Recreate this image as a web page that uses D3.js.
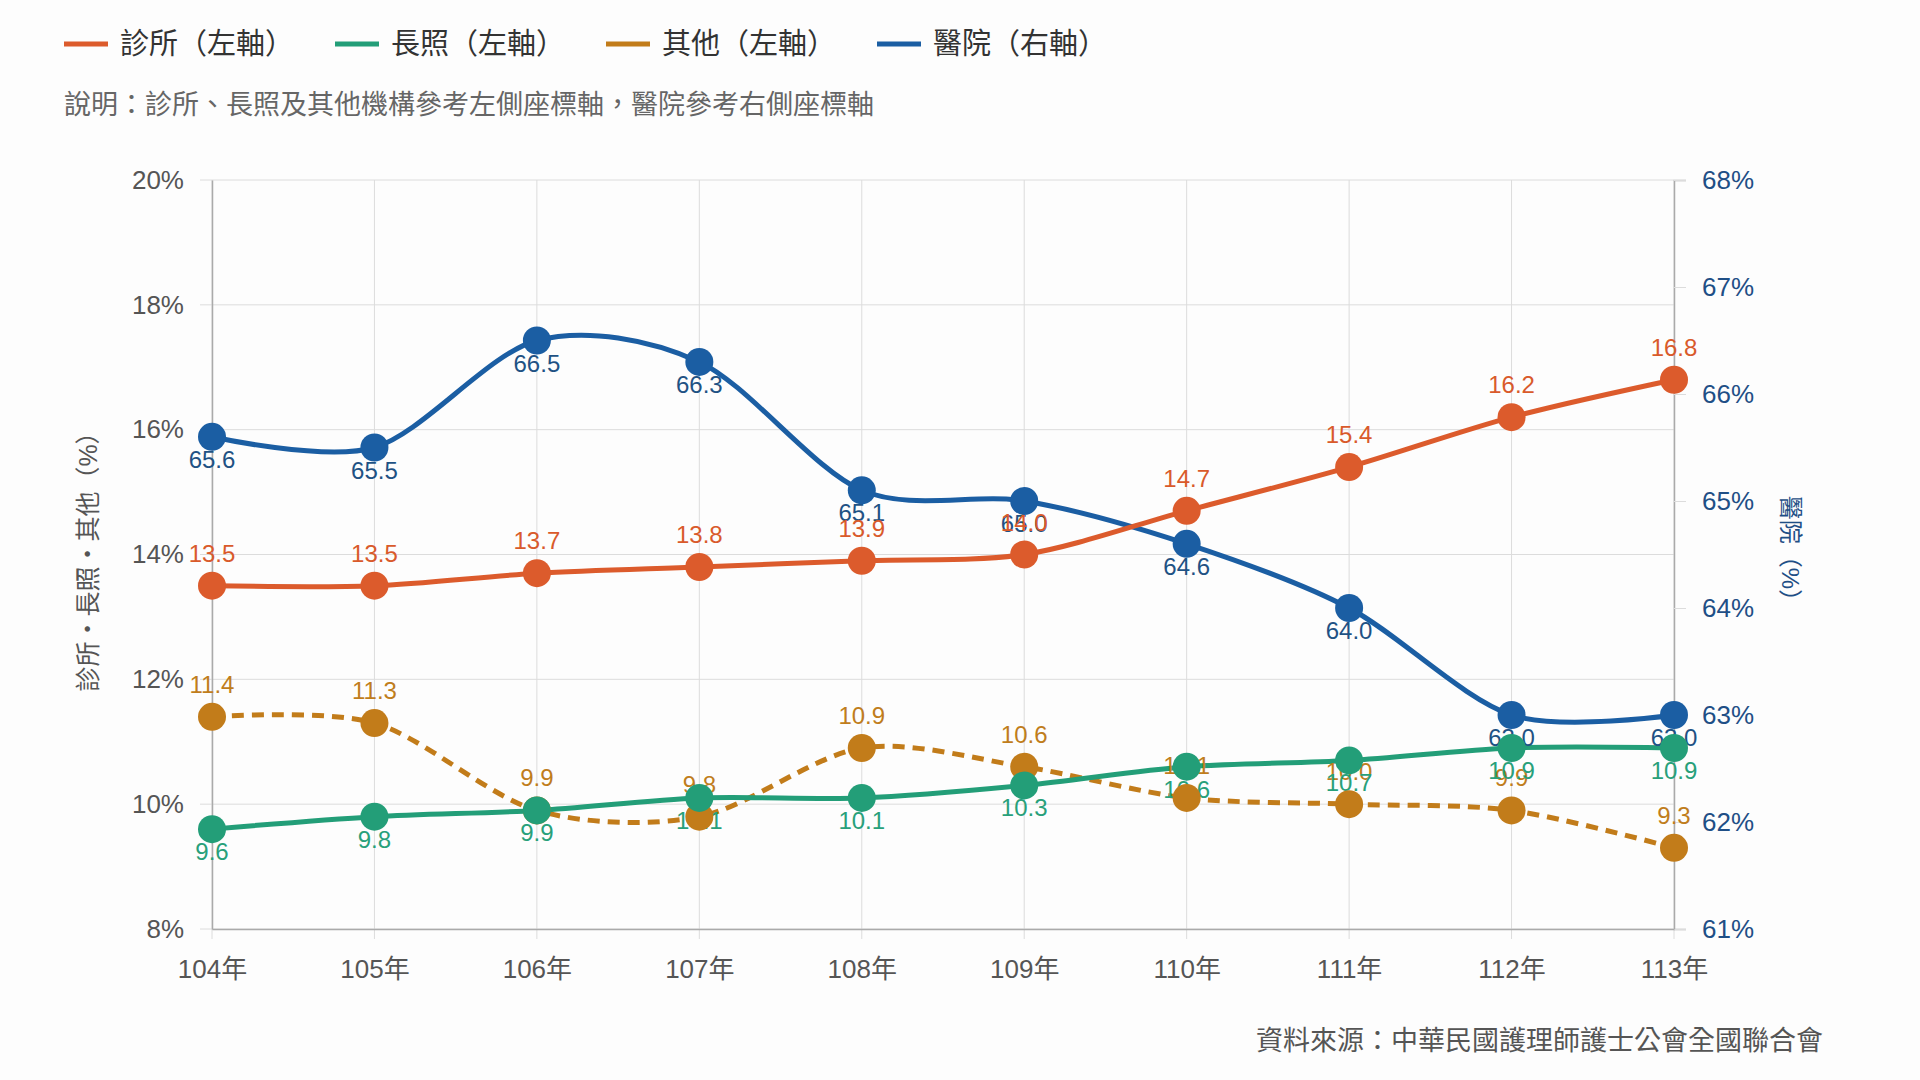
<!DOCTYPE html>
<html lang="zh-Hant">
<head>
    <meta charset="UTF-8">
    <title>護理人員執業場所分布</title>
    <script src="https://cdn.jsdelivr.net/npm/d3@7/dist/d3.min.js"></script>
</head>
<style>
    body {
        margin: 0;
        background: #fdfdfd;
    }

    text {
        font-family: "Liberation Sans", "Noto Sans CJK TC", sans-serif;
    }

    .grid line {
        stroke: #dcdcdc;
        stroke-width: 1;
    }
</style>
<body>
<script>
    var width = 1920;
    var height = 1080;

    // 資料
    var years = ['104年', '105年', '106年', '107年', '108年', '109年', '110年', '111年', '112年', '113年'];
    var clinic = [13.5, 13.5, 13.7, 13.8, 13.9, 14.0, 14.7, 15.4, 16.2, 16.8];
    var longTerm = [9.6, 9.8, 9.9, 10.1, 10.1, 10.3, 10.6, 10.7, 10.9, 10.9];
    var other = [11.4, 11.3, 9.9, 9.8, 10.9, 10.6, 10.1, 10.0, 9.9, 9.3];
    var hospital = [65.6, 65.5, 66.5, 66.3, 65.1, 65.0, 64.6, 64.0, 63.0, 63.0];
    var leftTicks = [8, 10, 12, 14, 16, 18, 20];
    var rightTicks = [61, 62, 63, 64, 65, 66, 67, 68];

    var padding = {left: 212, right: 246, top: 180, bottom: 151};

    var svg = d3.select('body')
        .append('svg')
        .attr('width', width)
        .attr('height', height)

    var xScale = d3.scalePoint()
        .domain(years)
        .range([padding.left, width - padding.right])

    var yLeft = d3.scaleLinear()
        .domain([8, 20])
        .range([height - padding.bottom, padding.top])

    var yRight = d3.scaleLinear()
        .domain([61, 68])
        .range([height - padding.bottom, padding.top])

    // 網格
    svg.append('g')
        .attr('class', 'grid')
        .selectAll('line')
        .data(years)
        .enter()
        .append('line')
        .attr('x1', function (d) { return xScale(d) })
        .attr('x2', function (d) { return xScale(d) })
        .attr('y1', padding.top)
        .attr('y2', height - padding.bottom + 10)

    svg.append('g')
        .attr('class', 'grid')
        .selectAll('line')
        .data(leftTicks)
        .enter()
        .append('line')
        .attr('x1', padding.left - 12)
        .attr('x2', width - padding.right)
        .attr('y1', function (d) { return yLeft(d) })
        .attr('y2', function (d) { return yLeft(d) })

    // 左軸
    var yAxisLeft = d3.axisLeft(yLeft)
        .tickValues(leftTicks)
        .tickSize(0)
        .tickPadding(28)
        .tickFormat(function (d) { return d + '%' })

    var gl = svg.append('g')
        .attr('transform', 'translate(' + padding.left + ',0)')
        .call(yAxisLeft)
    gl.select('.domain').attr('stroke', '#aaa').attr('stroke-width', 1.5)
    gl.selectAll('text').attr('font-size', 26).attr('fill', '#555')
        .style('font-family', '"Liberation Sans", sans-serif')

    // 右軸
    var yAxisRight = d3.axisRight(yRight)
        .tickValues(rightTicks)
        .tickSize(12)
        .tickPadding(16)
        .tickFormat(function (d) { return d + '%' })

    var gr = svg.append('g')
        .attr('transform', 'translate(' + (width - padding.right) + ',0)')
        .call(yAxisRight)
    gr.select('.domain').attr('stroke', '#aaa').attr('stroke-width', 1.5)
    gr.selectAll('.tick line').attr('stroke', '#dcdcdc')
    gr.selectAll('text').attr('font-size', 26).attr('fill', '#1f4f86')
        .style('font-family', '"Liberation Sans", sans-serif')

    // X 軸
    var xAxis = d3.axisBottom(xScale)
        .tickSize(0)
        .tickPadding(31)

    var gx = svg.append('g')
        .attr('transform', 'translate(0,' + (height - padding.bottom) + ')')
        .call(xAxis)
    gx.select('.domain').attr('stroke', '#aaa').attr('stroke-width', 1.5)
    gx.selectAll('text').attr('font-size', 26).attr('fill', '#555')

    // 軸標題
    svg.append('text')
        .attr('transform', 'translate(97,' + (yLeft(14) + 1) + ') rotate(-90)')
        .attr('text-anchor', 'middle')
        .attr('font-size', 25)
        .attr('fill', '#555')
        .text('診所・長照・其他（%）')

    svg.append('text')
        .attr('transform', 'translate(1782,' + yRight(64.5) + ') rotate(90)')
        .attr('text-anchor', 'middle')
        .attr('font-size', 24)
        .attr('fill', '#1f4f86')
        .text('醫院（%）')

    // 系列
    var series = [
        {name: '醫院（右軸）', values: hospital, scale: yRight, color: '#1b5ea3', labelColor: '#1f5284', dash: null, dy: 31},
        {name: '其他（左軸）', values: other, scale: yLeft, color: '#c27c1a', labelColor: '#c07d1c', dash: '12,8', dy: -24},
        {name: '長照（左軸）', values: longTerm, scale: yLeft, color: '#239e78', labelColor: '#28a07a', dash: null, dy: 31},
        {name: '診所（左軸）', values: clinic, scale: yLeft, color: '#dc5b2c', labelColor: '#d95a2b', dash: null, dy: -24}
    ]

    var lineLayer = svg.append('g')
    var labelLayer = svg.append('g')
    var pointLayer = svg.append('g')

    series.forEach(function (s) {
        var line = d3.line()
            .x(function (d, i) { return xScale(years[i]) })
            .y(function (d) { return s.scale(d) })
            .curve(d3.curveCardinal.tension(0.1))

        lineLayer.append('path')
            .datum(s.values)
            .attr('d', line)
            .attr('fill', 'none')
            .attr('stroke', s.color)
            .attr('stroke-width', 5)
            .attr('stroke-dasharray', s.dash)

        labelLayer.selectAll(null)
            .data(s.values)
            .enter()
            .append('text')
            .attr('x', function (d, i) { return xScale(years[i]) })
            .attr('y', function (d) { return s.scale(d) + s.dy })
            .attr('text-anchor', 'middle')
            .attr('font-size', 24)
            .attr('fill', s.labelColor)
            .text(function (d) { return d.toFixed(1) })

        pointLayer.selectAll(null)
            .data(s.values)
            .enter()
            .append('circle')
            .attr('cx', function (d, i) { return xScale(years[i]) })
            .attr('cy', function (d) { return s.scale(d) })
            .attr('r', 14)
            .attr('fill', s.color)
    })

    // 圖例
    var legendOrder = [series[3], series[2], series[1], series[0]]
    var legend = svg.append('g')
        .selectAll('g')
        .data(legendOrder)
        .enter()
        .append('g')
        .attr('transform', function (d, i) { return 'translate(' + (64 + i * 271) + ',44)' })

    legend.append('line')
        .attr('x1', 0)
        .attr('x2', 44)
        .attr('stroke', function (d) { return d.color })
        .attr('stroke-width', 5)

    legend.append('text')
        .attr('x', 56)
        .attr('y', 10)
        .attr('font-size', 29)
        .attr('fill', '#333')
        .text(function (d) { return d.name })

    svg.append('text')
        .attr('x', 64)
        .attr('y', 114)
        .attr('font-size', 27)
        .attr('fill', '#666')
        .text('說明：診所、長照及其他機構參考左側座標軸，醫院參考右側座標軸')

    svg.append('text')
        .attr('x', 1823)
        .attr('y', 1050)
        .attr('text-anchor', 'end')
        .attr('font-size', 27)
        .attr('fill', '#555')
        .text('資料來源：中華民國護理師護士公會全國聯合會')
</script>

</body>
</html>
